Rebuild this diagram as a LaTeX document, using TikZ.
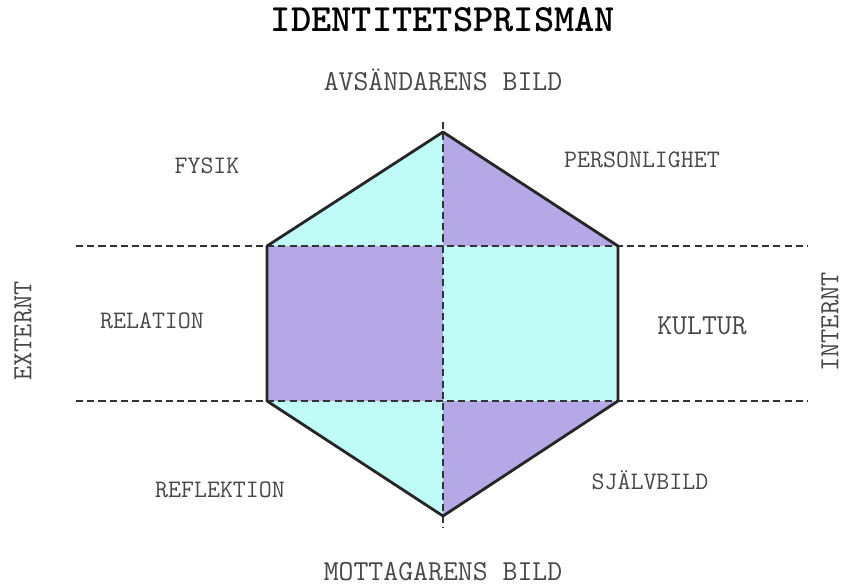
\documentclass[tikz,border=0pt]{standalone}
\usepackage{fontspec}
\usepackage{xcolor}
\usetikzlibrary{positioning}
\definecolor{prismcyan}{RGB}{191,252,247}
\definecolor{prismpurple}{RGB}{180,168,230}
\definecolor{labelgray}{RGB}{72,72,72}

\begin{document}
\begin{tikzpicture}[x=0.03cm,y=-0.03cm,
  facet/.style={font=\ttfamily\fontsize{21.5}{24}\selectfont,text=labelgray},
  view/.style={font=\ttfamily\fontsize{24.7}{27}\selectfont,text=labelgray},
  side/.style={font=\ttfamily\fontsize{23.6}{26}\selectfont,text=labelgray,rotate=90},
  divider/.style={dash pattern=on 6pt off 3.6pt,line width=1.6pt,draw=black!80},
  rim/.style={line width=2.4pt,line join=round,draw=black!85}]
\useasboundingbox (0,0) rectangle (844,587);

% corners of the prism
\coordinate (top) at (443,132);
\coordinate (ur) at (618,246);
\coordinate (lr) at (618,401);
\coordinate (bot) at (443,516);
\coordinate (ll) at (267,401);
\coordinate (ul) at (267,246);
\coordinate (mu) at (443,246);
\coordinate (ml) at (443,401);

% end points of the axes
\coordinate (axtop) at (443,122);
\coordinate (axbot) at (443,527);
\coordinate (upl) at (76,246);
\coordinate (upr) at (808,246);
\coordinate (lol) at (76,401);
\coordinate (lor) at (808,401);

\fill[prismcyan] (ul) -- (top) -- (mu) -- cycle;
\fill[prismpurple] (top) -- (ur) -- (mu) -- cycle;
\fill[prismpurple] (ul) rectangle (ml);
\fill[prismcyan] (mu) rectangle (lr);
\fill[prismcyan] (ll) -- (ml) -- (bot) -- cycle;
\fill[prismpurple] (ml) -- (lr) -- (bot) -- cycle;

\draw[divider] (axtop) -- (axbot);
\draw[divider] (upl) -- (upr);
\draw[divider] (lol) -- (lor);

\draw[rim] (top) -- (ur) -- (lr) -- (bot) -- (ll) -- (ul) -- cycle;

\node (title) at (443,20) {\ttfamily\bfseries\fontsize{32.9}{35}\selectfont IDENTITETSPRISMAN};
\node[view] (sender) at (443,80) {AVSÄNDARENS BILD};
\node[view] (receiver) at (443,572) {MOTTAGARENS BILD};

\node[facet] (fysik) at (207,166) {FYSIK};
\node[facet] (personlighet) at (642,160) {PERSONLIGHET};
\node[facet] (relation) at (152,321) {RELATION};
\node[view] (kultur) at (702,326) {KULTUR};
\node[facet] (reflektion) at (220,490) {REFLEKTION};
\node[facet] (sjalvbild) at (650,480) {SJÄLVBILD};

\node[side] (externt) at (23,331) {EXTERNT};
\node[side] (internt) at (830,322) {INTERNT};
\end{tikzpicture}
\end{document}
